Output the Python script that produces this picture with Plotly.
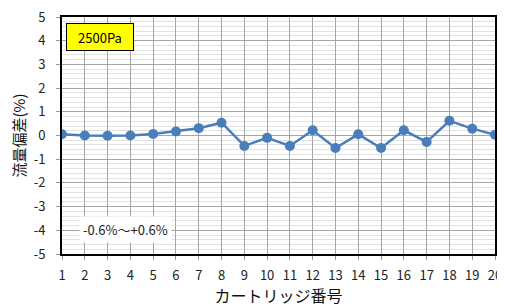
import plotly.graph_objects as go

cartridge = list(range(1, 21))
deviation = [0.05, 0.0, -0.01, 0.0, 0.06, 0.17, 0.31, 0.54, -0.44, -0.1,
             -0.44, 0.22, -0.53, 0.05, -0.53, 0.22, -0.27, 0.62, 0.29, 0.03]
y_ticks = [5, 4, 3, 2, 1, 0, -1, -2, -3, -4, -5]
pressure_label = "2500Pa"
range_label = "-0.6%～+0.6%"

font_family = "Noto Sans CJK JP, Noto Sans, sans-serif"

fig = go.Figure()
fig.add_trace(go.Scatter(
    x=cartridge, y=deviation, mode="lines+markers",
    line=dict(color="#4a7ebb", width=2.5),
    marker=dict(color="#4a7ebb", size=10),
    showlegend=False,
))

# page body has an 8px default margin, so the figure is sized 8px smaller
fig.update_layout(
    width=497, height=299,
    margin=dict(l=54, r=10, t=9, b=53, autoexpand=False),
    paper_bgcolor="white", plot_bgcolor="white",
    font=dict(family=font_family, color="#222"),
)
fig.update_xaxes(
    range=[1, 20], tickmode="array", tickvals=cartridge,
    ticktext=[str(c) for c in cartridge],
    showgrid=True, gridcolor="#a6a6a6", gridwidth=1,
    ticks="outside", ticklen=4, tickcolor="#999",
    ticklabelstandoff=4, ticklabeloverflow="allow",
    tickfont=dict(size=13, family=font_family, color="#222"),
    title=dict(text="カートリッジ番号", font=dict(size=16, family=font_family, color="#111"), standoff=4),
    showline=True, linecolor="black", linewidth=2, mirror=True,
    zeroline=False, automargin=False,
)
fig.update_yaxes(
    range=[-5, 5], tickmode="array", tickvals=y_ticks,
    ticktext=[str(v) for v in y_ticks],
    showgrid=True, gridcolor="#a6a6a6", gridwidth=1,
    minor=dict(dtick=0.2, showgrid=True, gridcolor="#e2e2e2", gridwidth=1),
    ticks="outside", ticklen=4, tickcolor="#999",
    ticklabelstandoff=8, ticklabeloverflow="allow",
    tickfont=dict(size=13, family=font_family, color="#222"),
    title=dict(text="流量偏差(%)", font=dict(size=15, family=font_family, color="#111"), standoff=16),
    showline=True, linecolor="black", linewidth=2, mirror=True,
    zeroline=False, automargin=False,
)

fig.add_annotation(
    xref="paper", yref="paper", x=0.01, y=0.975, xanchor="left", yanchor="top",
    text=pressure_label, showarrow=False,
    font=dict(size=13, family=font_family, color="black"),
    bgcolor="#ffff00", bordercolor="black", borderwidth=1,
    width=64, height=24,
)
fig.add_annotation(
    xref="paper", yref="paper", x=0.04, y=0.045, xanchor="left", yanchor="bottom",
    text=range_label, showarrow=False,
    font=dict(size=13, family=font_family, color="#222"),
    bgcolor="white", borderpad=3,
)

fig.write_html("out.html")
